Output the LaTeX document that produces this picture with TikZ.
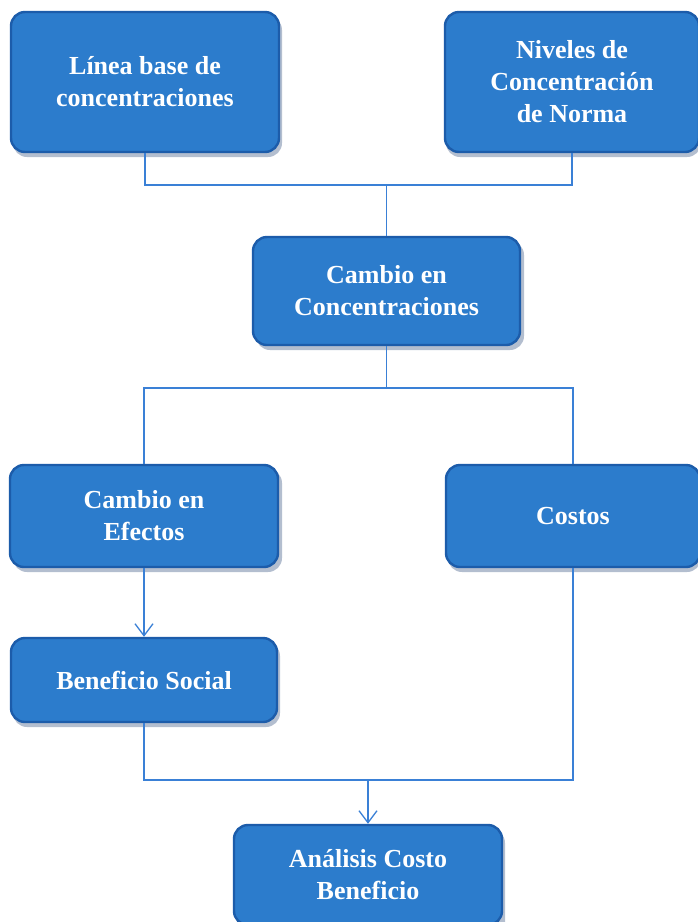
\documentclass[tikz,border=0pt]{standalone}
\usepackage{fontspec}
\setmainfont{Liberation Serif}
\usetikzlibrary{arrows.meta,calc}
\definecolor{boxfill}{RGB}{44,124,204}
\definecolor{boxedge}{RGB}{28,92,170}
\definecolor{shadowc}{RGB}{40,70,120}
\definecolor{linec}{RGB}{58,128,214}
\tikzset{
  box/.style={rectangle, rounded corners=14pt, fill=boxfill, draw=boxedge,
    line width=2.4pt, text=white, align=center, inner sep=0pt,
    font=\fontsize{26}{32}\selectfont\bfseries},
  conn/.style={draw=linec, line width=1.3pt},
  arr/.style={conn, -{Straight Barb[length=12pt,width=18pt,line width=1.3pt]}},
  shad/.style={fill=shadowc, opacity=0.35, rounded corners=14pt}
}
\begin{document}
\begin{tikzpicture}[x=1pt,y=-1pt]
\useasboundingbox (0,0) rectangle (698,922);
\clip (0,0) rectangle (698,922);
\fill[white] (0,0) rectangle (698,922);
% shadows
\fill[shad] (13,16) rectangle (282,157);
\fill[shad] (446,16) rectangle (701,157);
\fill[shad] (256,241) rectangle (524,350);
\fill[shad] (13,469) rectangle (282,572);
\fill[shad] (448,469) rectangle (701,572);
\fill[shad] (13,642) rectangle (280,727);
\fill[shad] (237,829) rectangle (505,950);
% boxes
\node[box, minimum width=268pt, minimum height=140pt] (lb) at (145,82) {Línea base de\\concentraciones};
\node[box, minimum width=254pt, minimum height=140pt] (nn) at (572,82) {Niveles de\\Concentración\\de Norma};
\node[box, minimum width=267pt, minimum height=108pt] (cc) at (386.5,291) {Cambio en\\Concentraciones};
\node[box, minimum width=268pt, minimum height=102pt] (ce) at (144,516) {Cambio en\\Efectos};
\node[box, minimum width=254pt, minimum height=102pt] (co) at (573,516) {Costos};
\node[box, minimum width=266pt, minimum height=84pt] (bs) at (144,680) {Beneficio Social};
\node[box, minimum width=268pt, minimum height=100pt] (ac) at (368,875) {Análisis Costo\\Beneficio};
% junctions
\coordinate (j1) at (386.5,185);
\coordinate (j2) at (386.5,388);
\coordinate (j3) at (368,780);
% connectors
\draw[conn] (lb.south) |- (j1);
\draw[conn] (nn.south) |- (j1);
\draw[conn] (j1) -- (cc.north);
\draw[conn] (cc.south) -- (j2);
\draw[conn] (j2) -| (ce.north);
\draw[conn] (j2) -| (co.north);
\draw[arr] (ce.south) -- (bs.north);
\draw[conn] (bs.south) |- (j3);
\draw[conn] (co.south) |- (j3);
\draw[arr] (j3) -- (ac.north);
\end{tikzpicture}
\end{document}
